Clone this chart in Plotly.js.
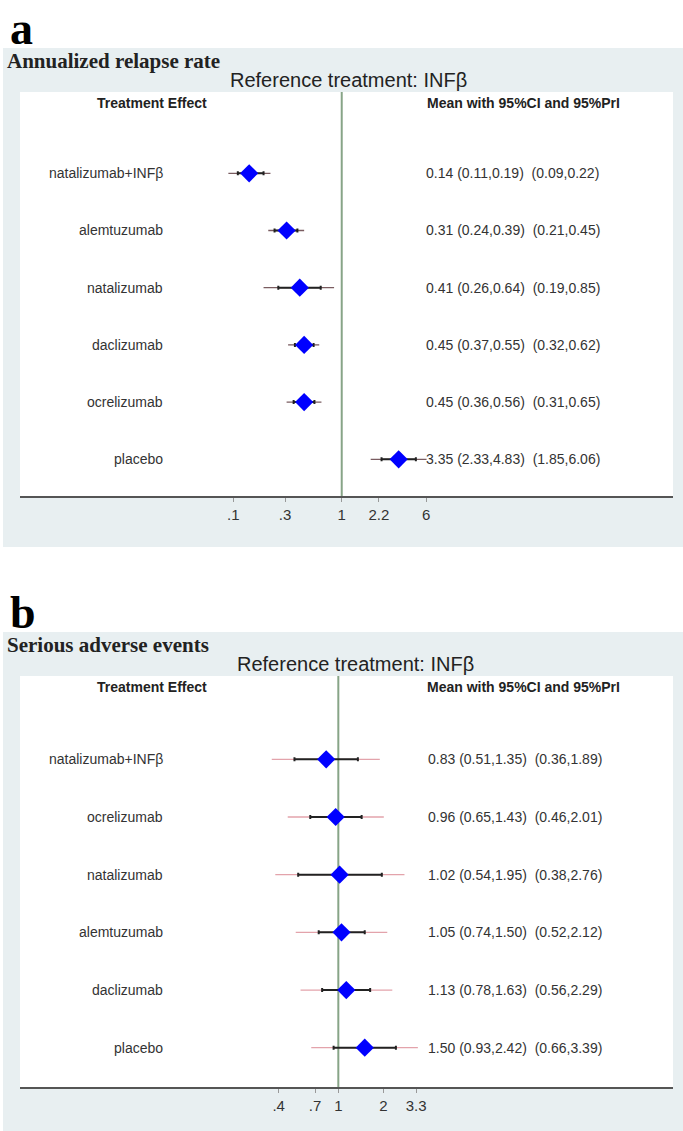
<!DOCTYPE html>
<html><head><meta charset="utf-8">
<script src="https://cdn.plot.ly/plotly-3.0.1.min.js"></script>
<style>html,body{margin:0;padding:0;background:#fff;}</style>
</head><body><div id="chart" style="width:683px;height:1131px;"></div>
<script>
// ---- Panel a: Annualized relapse rate ----
const catsA = ['natalizumab+INFβ','alemtuzumab','natalizumab','daclizumab','ocrelizumab','placebo'];
const meanA = [0.14, 0.31, 0.41, 0.45, 0.45, 3.35];
const ciLoA = [0.11, 0.24, 0.26, 0.37, 0.36, 2.33];
const ciHiA = [0.19, 0.39, 0.64, 0.55, 0.56, 4.83];
const prLoA = [0.09, 0.21, 0.19, 0.32, 0.31, 1.85];
const prHiA = [0.22, 0.45, 0.85, 0.62, 0.65, 6.06];
const tickValsA = [0.1, 0.3, 1, 2.2, 6];
const tickTextA = ['.1', '.3', '1', '2.2', '6'];

// ---- Panel b: Serious adverse events ----
const catsB = ['natalizumab+INFβ','ocrelizumab','natalizumab','alemtuzumab','daclizumab','placebo'];
const meanB = [0.83, 0.96, 1.02, 1.05, 1.13, 1.50];
const ciLoB = [0.51, 0.65, 0.54, 0.74, 0.78, 0.93];
const ciHiB = [1.35, 1.43, 1.95, 1.50, 1.63, 2.42];
const prLoB = [0.36, 0.46, 0.38, 0.52, 0.56, 0.66];
const prHiB = [1.89, 2.01, 2.76, 2.12, 2.29, 3.39];
const tickValsB = [0.4, 0.7, 1, 2, 3.3];
const tickTextB = ['.4', '.7', '1', '2', '3.3'];

const W = 683, H = 1131;
const px = v => v / W;
const py = v => 1 - v / H;
const SANS = 'Liberation Sans, Arial, sans-serif';
const SERIF = 'Liberation Serif, Times New Roman, serif';
const TXT = '#333333';

function panelTraces(xa, ya, mean, ciLo, ciHi, prLo, prHi, prColor) {
  const idx = mean.map((_, i) => i);
  return [
    {type:'scatter', mode:'markers', x:mean, y:idx, xaxis:xa, yaxis:ya,
     marker:{color:'rgba(0,0,0,0)', size:1}, hoverinfo:'skip',
     error_x:{type:'data', symmetric:false,
       array: prHi.map((v, i) => v - mean[i]),
       arrayminus: mean.map((v, i) => v - prLo[i]),
       color: prColor, thickness: 1.3, width: 0}},
    {type:'scatter', mode:'markers', x:mean, y:idx, xaxis:xa, yaxis:ya,
     marker:{color:'rgba(0,0,0,0)', size:1}, hoverinfo:'skip',
     error_x:{type:'data', symmetric:false,
       array: ciHi.map((v, i) => v - mean[i]),
       arrayminus: mean.map((v, i) => v - ciLo[i]),
       color: '#222222', thickness: 2, width: 2}},
    {type:'scatter', mode:'markers', x:mean, y:idx, xaxis:xa, yaxis:ya,
     marker:{symbol:'diamond', size:14, color:'#0000ff', line:{width:0}}}
  ];
}

const f2 = v => v.toFixed(2);
function panelAnnots(yref, cats, mean, ciLo, ciHi, prLo, prHi, numX) {
  const out = [];
  cats.forEach((c, i) => {
    out.push({xref:'paper', yref:yref, x:px(165), y:i, xanchor:'right', yanchor:'middle',
      text:c, showarrow:false, font:{family:SANS, size:14, color:TXT}});
    out.push({xref:'paper', yref:yref, x:px(numX), y:i, xanchor:'left', yanchor:'middle',
      text: f2(mean[i]) + ' (' + f2(ciLo[i]) + ',' + f2(ciHi[i]) + ') \u00a0(' + f2(prLo[i]) + ',' + f2(prHi[i]) + ')',
      showarrow:false, font:{family:SANS, size:14, color:TXT}});
  });
  return out;
}

function headerAnnots(off, panelLetter, title, refX) {
  return [
    {xref:'paper', yref:'paper', x:px(8), y:py(28 + off), xanchor:'left', yanchor:'middle',
     text:'<b>' + panelLetter + '</b>', showarrow:false, font:{family:SERIF, size:46, color:'#000'}},
    {xref:'paper', yref:'paper', x:px(5), y:py(61 + off), xanchor:'left', yanchor:'middle',
     text:'<b>' + title + '</b>', showarrow:false, font:{family:SERIF, size:21, color:'#222'}},
    {xref:'paper', yref:'paper', x:px(refX), y:py(80 + off), xanchor:'center', yanchor:'middle',
     text:'Reference treatment: INFβ', showarrow:false, font:{family:SANS, size:20, color:'#222'}},
    {xref:'paper', yref:'paper', x:px(152), y:py(103 + off), xanchor:'center', yanchor:'middle',
     text:'<b>Treatment Effect</b>', showarrow:false, font:{family:SANS, size:14, color:'#222'}},
    {xref:'paper', yref:'paper', x:px(523), y:py(103 + off), xanchor:'center', yanchor:'middle',
     text:'<b>Mean with 95%CI and 95%PrI</b>', showarrow:false, font:{family:SANS, size:14, color:'#222'}}
  ];
}

const traces = [].concat(
  panelTraces('x', 'y', meanA, ciLoA, ciHiA, prLoA, prHiA, '#7a5c60'),
  panelTraces('x2', 'y2', meanB, ciLoB, ciHiB, prLoB, prHiB, '#e3a3ab')
);

const annotations = [].concat(
  headerAnnots(0, 'a', 'Annualized relapse rate', 348),
  headerAnnots(584, 'b', 'Serious adverse events', 355),
  panelAnnots('y', catsA, meanA, ciLoA, ciHiA, prLoA, prHiA, 424),
  panelAnnots('y2', catsB, meanB, ciLoB, ciHiB, prLoB, prHiB, 426)
);

const GRAY = '#e8eff1';
const shapes = [
  {type:'rect', xref:'paper', yref:'paper', layer:'below', x0:px(3), x1:1, y0:py(547), y1:py(48), fillcolor:GRAY, line:{width:0}},
  {type:'rect', xref:'paper', yref:'paper', layer:'below', x0:px(20), x1:px(673), y0:py(496), y1:py(92), fillcolor:'#ffffff', line:{width:0}},
  {type:'rect', xref:'paper', yref:'paper', layer:'below', x0:px(3), x1:1, y0:0, y1:py(632), fillcolor:GRAY, line:{width:0}},
  {type:'rect', xref:'paper', yref:'paper', layer:'below', x0:px(20), x1:px(673), y0:py(1087), y1:py(676), fillcolor:'#ffffff', line:{width:0}},
  {type:'line', xref:'x', yref:'y domain', x0:1, x1:1, y0:0, y1:1, line:{color:'#87a487', width:2}, layer:'below'},
  {type:'line', xref:'x2', yref:'y2 domain', x0:1, x1:1, y0:0, y1:1, line:{color:'#87a487', width:2}, layer:'below'}
];

function xAxis(range, tv, tt, anchor) {
  return {type:'log', range:range, domain:[px(20), px(673)], anchor:anchor,
    tickmode:'array', tickvals:tv, ticktext:tt, ticks:'outside', ticklen:4, tickwidth:1, tickcolor:'#999',
    showline:true, linecolor:'#555', linewidth:1.5, showgrid:false, zeroline:false,
    tickfont:{family:SANS, size:15, color:TXT}, fixedrange:true};
}
function yAxis(domain, range, anchor) {
  return {domain:domain, range:range, anchor:anchor, visible:false, showgrid:false, zeroline:false, fixedrange:true};
}

const layout = {
  width: W, height: H,
  margin:{l:0, r:0, t:0, b:0},
  paper_bgcolor:'#ffffff', plot_bgcolor:'rgba(0,0,0,0)',
  showlegend:false,
  xaxis: xAxis([-2.968, 3.056], tickValsA, tickTextA, 'y'),
  yaxis: yAxis([py(496), py(92)], [5.642, -1.421], 'x'),
  xaxis2: xAxis([-2.122, 2.231], tickValsB, tickTextB, 'y2'),
  yaxis2: yAxis([py(1087), py(676)], [5.681, -1.444], 'x2'),
  shapes: shapes,
  annotations: annotations
};

Plotly.newPlot('chart', traces, layout, {displayModeBar:false, staticPlot:true});
</script></body></html>
